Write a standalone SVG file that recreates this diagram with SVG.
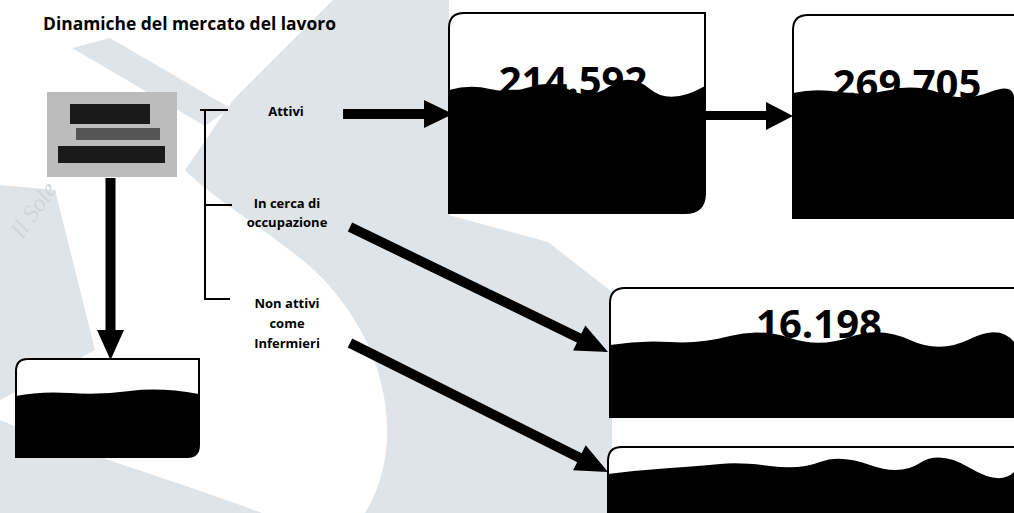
<svg xmlns="http://www.w3.org/2000/svg" width="1014" height="513" viewBox="0 0 1014 513">
<defs>
<style>
.wm{fill:#dee4e8;stroke:none}
.lbl{font-family:"Open Sans","Liberation Sans",sans-serif;font-weight:700;font-size:13px;fill:#000;text-anchor:middle}
.num{font-family:"Open Sans","Liberation Sans",sans-serif;font-weight:700;font-size:40px;fill:#000;text-anchor:middle}
.box{fill:#fff;stroke:#000;stroke-width:2}
.ink{fill:#000;stroke:none}
.shaft{stroke:#000;stroke-width:10;fill:none}
.brk{stroke:#000;stroke-width:2;fill:none}
</style>
</defs>
<rect width="1014" height="513" fill="#fff"/>
<g id="watermark">
<path class="wm" d="M333,0 L449,0 L449,215 L548,242 L612,292 L612,513 L365,513 C410,440 385,330 305,262 C255,222 215,200 185,170 L233,100 Z"/>
<path class="wm" d="M0,420 C70,450 160,475 262,513 L0,513 Z"/>
<path class="wm" d="M0,185 L55,190 L95,350 L0,400 Z"/>
<path class="wm" d="M72,48 L110,38 L230,108 L205,126 Z"/>
<text x="22" y="240" transform="rotate(-55 22 240)" font-family="Liberation Serif,serif" font-style="italic" font-size="24" fill="#cfd6da">Il Sole</text>
</g>
<text id="title" x="43" y="30" font-family="Open Sans,Liberation Sans,sans-serif" font-weight="700" font-size="17" textLength="293" lengthAdjust="spacingAndGlyphs">Dinamiche del mercato del lavoro</text>
<g id="node-source">
<rect x="47" y="92" width="130" height="85" fill="#bcbcbc"/>
<rect x="70" y="104" width="80" height="20" fill="#1a1a1a"/>
<rect x="76" y="128" width="84" height="12" fill="#555"/>
<rect x="58" y="146" width="107" height="17" fill="#1a1a1a"/>
</g>
<g id="bracket">
<path class="brk" d="M200,110 H228 M205,110 V299 H230 M205,205 H232"/>
</g>
<g id="labels">
<text class="lbl" x="286" y="116">Attivi</text>
<text class="lbl" x="287" y="208">In cerca di</text>
<text class="lbl" x="287" y="227">occupazione</text>
<text class="lbl" x="287" y="308">Non attivi</text>
<text class="lbl" x="287" y="328">come</text>
<text class="lbl" x="287" y="348">Infermieri</text>
</g>
<g id="node-attivi-1">
<path class="box" d="M464,13 H705 V193 Q705,213 685,213 H449 V28 Q449,13 464,13 Z"/>
<text class="num" x="573" y="95">214.592</text>
<path class="ink" d="M449,90 Q470,84 490,89 T530,87 T570,90 T610,86 T650,89 T705,86 V193 Q705,213 685,213 H449 Z"/>
</g>
<g id="node-attivi-2">
<path class="box" d="M808,15 H1070 V218 H793 V30 Q793,15 808,15 Z"/>
<text class="num" x="907" y="98">269.705</text>
<path class="ink" d="M793,93 Q815,88 840,92 T890,90 T940,93 T990,92 T1014,100 V218 H793 Z"/>
</g>
<g id="node-cerca">
<path class="box" d="M625,288 H1070 V417 H610 V303 Q610,288 625,288 Z"/>
<text class="num" x="819" y="338">16.198</text>
<path class="ink" d="M610,345 Q640,340 670,342 T730,336 T790,338 T850,337 T910,340 T970,339 T1014,342 V417 H610 Z"/>
</g>
<g id="node-nonattivi">
<path class="box" d="M622,447 H1070 V530 H608 V461 Q608,447 622,447 Z"/>
<path class="ink" d="M608,474 Q640,470 670,468 T720,464 T770,466 T820,462 T870,465 T920,463 T970,468 T1014,472 V530 H608 Z"/>
</g>
<g id="node-bottom">
<path class="box" d="M28,359 H199 V445 Q199,457 187,457 H16 V371 Q16,359 28,359 Z"/>
<path class="ink" d="M16,396 Q40,391 70,393 T130,391 T199,394 V445 Q199,457 187,457 H16 Z"/>
</g>
<g id="connectors">
<line class="shaft" x1="110.5" y1="178" x2="110.5" y2="332"/>
<polygon class="ink" points="97,330 124,330 110.5,360"/>
<rect class="ink" x="343" y="109" width="82" height="10"/>
<polygon class="ink" points="424,100 453,114 424,128"/>
<rect class="ink" x="704" y="111" width="63" height="9"/>
<polygon class="ink" points="766,102 793,116 766,130"/>
<line class="shaft" x1="350" y1="227" x2="582" y2="339.4"/>
<polygon class="ink" points="608,352 573.1,350.6 585.3,325.4"/>
<line class="shaft" x1="350" y1="343" x2="582" y2="459"/>
<polygon class="ink" points="608,472 573.1,470.2 585.7,445.2"/>
</g>
</svg>
